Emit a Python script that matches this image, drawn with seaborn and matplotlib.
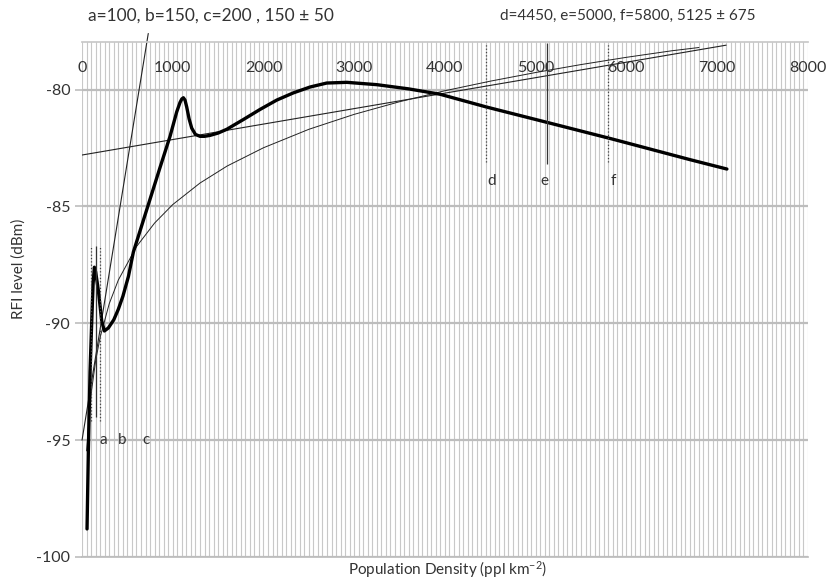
import numpy as np
import pandas as pd
import matplotlib
matplotlib.use('Agg')
import matplotlib.pyplot as plt
import seaborn as sns

# measured RFI curve (thick)
rfi_x = [55, 70, 88, 107, 122, 136, 150, 180, 217, 246, 290, 350, 400, 450, 511, 566, 700,
         860, 970, 1044, 1080, 1100, 1117, 1135, 1154, 1180, 1209, 1250, 1301, 1350, 1411,
         1500, 1595, 1779, 1962, 2146, 2330, 2514, 2697, 2918, 3249, 3600, 3947, 4462,
         5142, 5829, 6703, 7108]
rfi_y = [-98.8, -95.4, -92.1, -89.9, -88.3, -87.6, -87.8, -88.6, -89.9, -90.33, -90.2,
         -89.85, -89.4, -88.85, -88.0, -86.95, -85.3, -83.33, -82.0, -80.95, -80.55, -80.4,
         -80.35, -80.45, -80.75, -81.25, -81.65, -81.92, -82.0, -82.0, -81.96, -81.86,
         -81.7, -81.28, -80.85, -80.45, -80.14, -79.89, -79.72, -79.69, -79.79, -79.97,
         -80.2, -80.75, -81.42, -82.1, -83.0, -83.4]

# log trend (thin curve)
log_x = [50, 100, 150, 200, 300, 400, 600, 800, 1000, 1300, 1600, 2000, 2500, 3000,
         3500, 4000, 4500, 5000, 5500, 6000, 6500, 6800]
log_y = [-95.46, -93.02, -91.6, -90.59, -89.16, -88.15, -86.72, -85.71, -84.92, -84.0,
         -83.27, -82.49, -81.7, -81.06, -80.52, -80.05, -79.64, -79.27, -78.93, -78.62,
         -78.34, -78.2]

# linear trend across whole range
lin_x = [0, 7100]
lin_y = [-82.8, -78.1]

# steep trend near a, b, c
steep_x = [0, 730]
steep_y = [-95.0, -77.6]

# markers a, b, c and d, e, f
abc_x = [100, 150, 200]
abc_lbl = ['a', 'b', 'c']
abc_lbl_x = [230, 440, 705]
def_x = [4450, 5125, 5800]
def_lbl = ['d', 'e', 'f']
def_lbl_x = [4520, 5094, 5855]

x_ticks = [0, 1000, 2000, 3000, 4000, 5000, 6000, 7000, 8000]
y_ticks = [-100, -95, -90, -85, -80]

sns.set_theme(style='white')
plt.rcParams['font.family'] = ['Lato', 'DejaVu Sans']
plt.rcParams['mathtext.default'] = 'regular'
plt.rcParams['axes.unicode_minus'] = False

fig = plt.figure(figsize=(8.27, 5.82), dpi=100)
ax = fig.add_axes([0.0992, 0.043, 0.8776, 0.885])

grid_c = '#c8c8c8'
for gx in np.arange(0, 8001, 50):
    ax.axvline(gx, color=grid_c, lw=0.8, zorder=0)
for gy in y_ticks:
    ax.axhline(gy, color='#bdbdbd', lw=1.6, zorder=0)

sns.lineplot(x=log_x, y=log_y, ax=ax, color='#222222', lw=0.7)
sns.lineplot(x=lin_x, y=lin_y, ax=ax, color='#222222', lw=0.8)
steep = sns.lineplot(x=steep_x, y=steep_y, ax=ax, color='#222222', lw=0.8)
steep.lines[-1].set_clip_on(False)
sns.lineplot(x=rfi_x, y=rfi_y, ax=ax, color='black', lw=2.4)

# vertical marker lines
ax.vlines([abc_x[0], abc_x[2]], -94.2, -86.7, colors='#444444', lw=0.9, linestyles=':')
ax.vlines(abc_x[1], -94.0, -86.7, colors='#333333', lw=0.9)
ax.vlines([def_x[0], def_x[2]], -83.1, -78, colors='#444444', lw=0.9, linestyles=':')
ax.vlines(def_x[1], -83.2, -78, colors='#333333', lw=0.9)

for lx, t in zip(abc_lbl_x, abc_lbl):
    ax.text(lx, -95.0, t, ha='center', va='center', fontsize=11, color='#333333')
for lx, t in zip(def_lbl_x, def_lbl):
    ax.text(lx, -83.9, t, ha='center', va='center', fontsize=11, color='#333333')

fig.text(88 / 827, 1 - 16 / 582, 'a=100, b=150, c=200 , 150 \u00b1 50', ha='left', va='center',
         fontsize=12.5, color='#333333')
fig.text(500 / 827, 1 - 16 / 582, 'd=4450, e=5000, f=5800, 5125 \u00b1 675', ha='left', va='center',
         fontsize=11, color='#333333')

ax.set_xlim(0, 8000)
ax.set_ylim(-100, -77.96)
ax.set_xticks(x_ticks)
ax.set_yticks(y_ticks)
ax.xaxis.tick_top()
ax.tick_params(axis='x', length=0, pad=-24, labelsize=11.5, labelcolor='#333333')
ax.tick_params(axis='y', length=5, width=1.2, color='#bdbdbd', labelsize=11.5, labelcolor='#333333', left=True)

for s in ax.spines.values():
    s.set_visible(False)
ax.spines['bottom'].set_visible(True)
ax.spines['bottom'].set_color('#bdbdbd')
ax.spines['top'].set_visible(True)
ax.spines['top'].set_color('#c8c8c8')

ax.set_xlabel('Population Density (ppl km$^{-2}$)', fontsize=11, color='#333333')
ax.xaxis.set_label_position('bottom')
ax.xaxis.set_label_coords(0.504, -0.005)
ax.set_ylabel('RFI level (dBm)', fontsize=11, color='#333333')
ax.yaxis.set_label_coords(-0.078, 0.56)

fig.savefig('out.png', dpi=100)
